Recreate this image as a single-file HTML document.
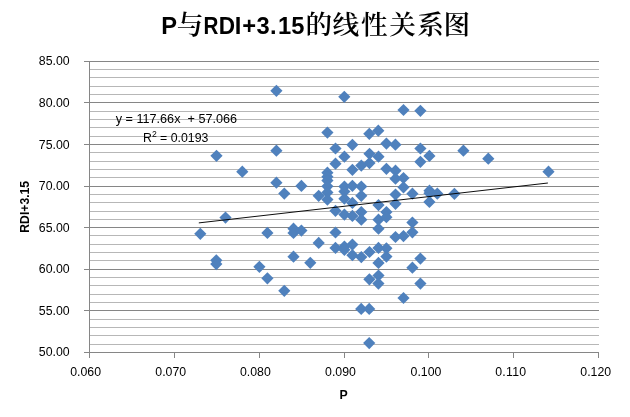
<!DOCTYPE html>
<html lang="zh">
<head>
<meta charset="utf-8">
<title>P与RDI+3.15的线性关系图</title>
<style>
html,body{margin:0;padding:0;background:#fff;}
body{width:630px;height:417px;overflow:hidden;}
svg{display:block;}
text{font-family:"Liberation Sans","Noto Sans CJK SC",sans-serif;fill:#000;}
.ax{font-size:12.3px;}
.b{font-weight:bold;}
.cjk{font-family:"Liberation Serif","Noto Serif CJK SC",serif;font-weight:600;}
</style>
</head>
<body>
<svg width="630" height="417" viewBox="0 0 630 417">
<rect x="0" y="0" width="630" height="417" fill="#ffffff"/>

<g stroke="#b7b7b7" stroke-width="1" shape-rendering="crispEdges">
<line x1="89.5" y1="69.5" x2="599.0" y2="69.5"/>
<line x1="89.5" y1="77.5" x2="599.0" y2="77.5"/>
<line x1="89.5" y1="86.5" x2="599.0" y2="86.5"/>
<line x1="89.5" y1="94.5" x2="599.0" y2="94.5"/>
<line x1="89.5" y1="111.5" x2="599.0" y2="111.5"/>
<line x1="89.5" y1="119.5" x2="599.0" y2="119.5"/>
<line x1="89.5" y1="127.5" x2="599.0" y2="127.5"/>
<line x1="89.5" y1="136.5" x2="599.0" y2="136.5"/>
<line x1="89.5" y1="152.5" x2="599.0" y2="152.5"/>
<line x1="89.5" y1="161.5" x2="599.0" y2="161.5"/>
<line x1="89.5" y1="169.5" x2="599.0" y2="169.5"/>
<line x1="89.5" y1="177.5" x2="599.0" y2="177.5"/>
<line x1="89.5" y1="194.5" x2="599.0" y2="194.5"/>
<line x1="89.5" y1="202.5" x2="599.0" y2="202.5"/>
<line x1="89.5" y1="211.5" x2="599.0" y2="211.5"/>
<line x1="89.5" y1="219.5" x2="599.0" y2="219.5"/>
<line x1="89.5" y1="235.5" x2="599.0" y2="235.5"/>
<line x1="89.5" y1="244.5" x2="599.0" y2="244.5"/>
<line x1="89.5" y1="252.5" x2="599.0" y2="252.5"/>
<line x1="89.5" y1="260.5" x2="599.0" y2="260.5"/>
<line x1="89.5" y1="277.5" x2="599.0" y2="277.5"/>
<line x1="89.5" y1="285.5" x2="599.0" y2="285.5"/>
<line x1="89.5" y1="294.5" x2="599.0" y2="294.5"/>
<line x1="89.5" y1="302.5" x2="599.0" y2="302.5"/>
<line x1="89.5" y1="319.5" x2="599.0" y2="319.5"/>
<line x1="89.5" y1="327.5" x2="599.0" y2="327.5"/>
<line x1="89.5" y1="335.5" x2="599.0" y2="335.5"/>
<line x1="89.5" y1="344.5" x2="599.0" y2="344.5"/>
</g>
<g stroke="#868686" stroke-width="1" shape-rendering="crispEdges">
<line x1="84.0" y1="61.5" x2="599.0" y2="61.5"/>
<line x1="84.0" y1="102.5" x2="599.0" y2="102.5"/>
<line x1="84.0" y1="144.5" x2="599.0" y2="144.5"/>
<line x1="84.0" y1="186.5" x2="599.0" y2="186.5"/>
<line x1="84.0" y1="227.5" x2="599.0" y2="227.5"/>
<line x1="84.0" y1="269.5" x2="599.0" y2="269.5"/>
<line x1="84.0" y1="310.5" x2="599.0" y2="310.5"/>
<line x1="84.0" y1="352.5" x2="599.0" y2="352.5"/>
<line x1="89.5" y1="61.0" x2="89.5" y2="353.0"/>
<line x1="89.5" y1="352.5" x2="89.5" y2="358.0"/>
<line x1="174.5" y1="352.5" x2="174.5" y2="358.0"/>
<line x1="259.5" y1="352.5" x2="259.5" y2="358.0"/>
<line x1="344.5" y1="352.5" x2="344.5" y2="358.0"/>
<line x1="428.5" y1="352.5" x2="428.5" y2="358.0"/>
<line x1="513.5" y1="352.5" x2="513.5" y2="358.0"/>
<line x1="598.5" y1="352.5" x2="598.5" y2="358.0"/>
</g>
<g fill="#4f81bd">
<path d="M276.4 84.7L282.5 90.8L276.4 96.9L270.3 90.8Z"/>
<path d="M216.5 149.7L222.6 155.8L216.5 161.9L210.4 155.8Z"/>
<path d="M276.4 144.6L282.5 150.7L276.4 156.8L270.3 150.7Z"/>
<path d="M242.3 165.6L248.4 171.7L242.3 177.8L236.2 171.7Z"/>
<path d="M276.4 176.6L282.5 182.7L276.4 188.8L270.3 182.7Z"/>
<path d="M301.4 179.8L307.5 185.9L301.4 192.0L295.3 185.9Z"/>
<path d="M284.3 187.5L290.4 193.6L284.3 199.7L278.2 193.6Z"/>
<path d="M225.5 211.5L231.6 217.6L225.5 223.7L219.4 217.6Z"/>
<path d="M200.3 227.7L206.4 233.8L200.3 239.9L194.2 233.8Z"/>
<path d="M267.4 226.8L273.5 232.9L267.4 239.0L261.3 232.9Z"/>
<path d="M293.5 222.6L299.6 228.7L293.5 234.8L287.4 228.7Z"/>
<path d="M293.5 226.8L299.6 232.9L293.5 239.0L287.4 232.9Z"/>
<path d="M301.4 224.5L307.5 230.6L301.4 236.7L295.3 230.6Z"/>
<path d="M216.3 254.2L222.4 260.3L216.3 266.4L210.2 260.3Z"/>
<path d="M216.3 258.0L222.4 264.1L216.3 270.2L210.2 264.1Z"/>
<path d="M259.4 260.7L265.5 266.8L259.4 272.9L253.3 266.8Z"/>
<path d="M293.5 250.6L299.6 256.7L293.5 262.8L287.4 256.7Z"/>
<path d="M310.3 256.7L316.4 262.8L310.3 268.9L304.2 262.8Z"/>
<path d="M267.4 272.2L273.5 278.3L267.4 284.4L261.3 278.3Z"/>
<path d="M284.3 284.7L290.4 290.8L284.3 296.9L278.2 290.8Z"/>
<path d="M344.3 90.7L350.4 96.8L344.3 102.9L338.2 96.8Z"/>
<path d="M403.5 103.9L409.6 110.0L403.5 116.1L397.4 110.0Z"/>
<path d="M420.4 104.7L426.5 110.8L420.4 116.9L414.3 110.8Z"/>
<path d="M327.4 126.5L333.5 132.6L327.4 138.7L321.3 132.6Z"/>
<path d="M369.3 127.7L375.4 133.8L369.3 139.9L363.2 133.8Z"/>
<path d="M378.3 124.6L384.4 130.7L378.3 136.8L372.2 130.7Z"/>
<path d="M352.4 138.7L358.5 144.8L352.4 150.9L346.3 144.8Z"/>
<path d="M335.5 142.4L341.6 148.5L335.5 154.6L329.4 148.5Z"/>
<path d="M386.4 137.5L392.5 143.6L386.4 149.7L380.3 143.6Z"/>
<path d="M395.4 138.6L401.5 144.7L395.4 150.8L389.3 144.7Z"/>
<path d="M420.4 142.4L426.5 148.5L420.4 154.6L414.3 148.5Z"/>
<path d="M344.4 150.6L350.5 156.7L344.4 162.8L338.3 156.7Z"/>
<path d="M335.5 157.6L341.6 163.7L335.5 169.8L329.4 163.7Z"/>
<path d="M369.5 147.7L375.6 153.8L369.5 159.9L363.4 153.8Z"/>
<path d="M378.5 150.6L384.6 156.7L378.5 162.8L372.4 156.7Z"/>
<path d="M369.5 157.0L375.6 163.1L369.5 169.2L363.4 163.1Z"/>
<path d="M361.3 159.5L367.4 165.6L361.3 171.7L355.2 165.6Z"/>
<path d="M352.4 163.7L358.5 169.8L352.4 175.9L346.3 169.8Z"/>
<path d="M327.4 166.6L333.5 172.7L327.4 178.8L321.3 172.7Z"/>
<path d="M327.4 170.7L333.5 176.8L327.4 182.9L321.3 176.8Z"/>
<path d="M327.4 174.5L333.5 180.6L327.4 186.7L321.3 180.6Z"/>
<path d="M327.4 180.2L333.5 186.3L327.4 192.4L321.3 186.3Z"/>
<path d="M386.4 162.7L392.5 168.8L386.4 174.9L380.3 168.8Z"/>
<path d="M344.4 180.5L350.5 186.6L344.4 192.7L338.3 186.6Z"/>
<path d="M352.4 179.7L358.5 185.8L352.4 191.9L346.3 185.8Z"/>
<path d="M361.3 180.4L367.4 186.5L361.3 192.6L355.2 186.5Z"/>
<path d="M327.4 186.3L333.5 192.4L327.4 198.5L321.3 192.4Z"/>
<path d="M327.4 193.5L333.5 199.6L327.4 205.7L321.3 199.6Z"/>
<path d="M318.7 189.7L324.8 195.8L318.7 201.9L312.6 195.8Z"/>
<path d="M344.4 185.4L350.5 191.5L344.4 197.6L338.3 191.5Z"/>
<path d="M344.4 192.6L350.5 198.7L344.4 204.8L338.3 198.7Z"/>
<path d="M361.3 189.7L367.4 195.8L361.3 201.9L355.2 195.8Z"/>
<path d="M352.4 196.8L358.5 202.9L352.4 209.0L346.3 202.9Z"/>
<path d="M378.5 199.0L384.6 205.1L378.5 211.2L372.4 205.1Z"/>
<path d="M335.5 204.7L341.6 210.8L335.5 216.9L329.4 210.8Z"/>
<path d="M344.4 208.5L350.5 214.6L344.4 220.7L338.3 214.6Z"/>
<path d="M352.4 209.8L358.5 215.9L352.4 222.0L346.3 215.9Z"/>
<path d="M361.3 206.0L367.4 212.1L361.3 218.2L355.2 212.1Z"/>
<path d="M361.3 213.6L367.4 219.7L361.3 225.8L355.2 219.7Z"/>
<path d="M378.5 213.6L384.6 219.7L378.5 225.8L372.4 219.7Z"/>
<path d="M386.4 206.0L392.5 212.1L386.4 218.2L380.3 212.1Z"/>
<path d="M378.5 222.6L384.6 228.7L378.5 234.8L372.4 228.7Z"/>
<path d="M335.5 226.4L341.6 232.5L335.5 238.6L329.4 232.5Z"/>
<path d="M318.7 236.8L324.8 242.9L318.7 249.0L312.6 242.9Z"/>
<path d="M335.5 241.8L341.6 247.9L335.5 254.0L329.4 247.9Z"/>
<path d="M344.4 240.4L350.5 246.5L344.4 252.6L338.3 246.5Z"/>
<path d="M344.4 243.7L350.5 249.8L344.4 255.9L338.3 249.8Z"/>
<path d="M352.4 238.5L358.5 244.6L352.4 250.7L346.3 244.6Z"/>
<path d="M352.4 249.1L358.5 255.2L352.4 261.3L346.3 255.2Z"/>
<path d="M361.3 251.0L367.4 257.1L361.3 263.2L355.2 257.1Z"/>
<path d="M369.5 245.9L375.6 252.0L369.5 258.1L363.4 252.0Z"/>
<path d="M378.5 241.8L384.6 247.9L378.5 254.0L372.4 247.9Z"/>
<path d="M386.4 242.2L392.5 248.3L386.4 254.4L380.3 248.3Z"/>
<path d="M386.4 250.5L392.5 256.6L386.4 262.7L380.3 256.6Z"/>
<path d="M378.5 256.8L384.6 262.9L378.5 269.0L372.4 262.9Z"/>
<path d="M378.5 269.4L384.6 275.5L378.5 281.6L372.4 275.5Z"/>
<path d="M369.4 273.2L375.5 279.3L369.4 285.4L363.3 279.3Z"/>
<path d="M378.4 277.5L384.5 283.6L378.4 289.7L372.3 283.6Z"/>
<path d="M412.4 261.6L418.5 267.7L412.4 273.8L406.3 267.7Z"/>
<path d="M420.4 277.5L426.5 283.6L420.4 289.7L414.3 283.6Z"/>
<path d="M403.5 291.9L409.6 298.0L403.5 304.1L397.4 298.0Z"/>
<path d="M361.2 302.8L367.3 308.9L361.2 315.0L355.1 308.9Z"/>
<path d="M369.2 302.8L375.3 308.9L369.2 315.0L363.1 308.9Z"/>
<path d="M369.2 337.0L375.3 343.1L369.2 349.2L363.1 343.1Z"/>
<path d="M429.4 149.8L435.5 155.9L429.4 162.0L423.3 155.9Z"/>
<path d="M420.4 155.7L426.5 161.8L420.4 167.9L414.3 161.8Z"/>
<path d="M395.5 164.6L401.6 170.7L395.5 176.8L389.4 170.7Z"/>
<path d="M395.5 172.6L401.6 178.7L395.5 184.8L389.4 178.7Z"/>
<path d="M403.5 171.9L409.6 178.0L403.5 184.1L397.4 178.0Z"/>
<path d="M403.5 181.2L409.6 187.3L403.5 193.4L397.4 187.3Z"/>
<path d="M395.5 188.4L401.6 194.5L395.5 200.6L389.4 194.5Z"/>
<path d="M412.4 187.6L418.5 193.7L412.4 199.8L406.3 193.7Z"/>
<path d="M395.5 197.7L401.6 203.8L395.5 209.9L389.4 203.8Z"/>
<path d="M429.5 184.6L435.6 190.7L429.5 196.8L423.4 190.7Z"/>
<path d="M429.5 187.1L435.6 193.2L429.5 199.3L423.4 193.2Z"/>
<path d="M437.3 187.6L443.4 193.7L437.3 199.8L431.2 193.7Z"/>
<path d="M429.4 195.8L435.5 201.9L429.4 208.0L423.3 201.9Z"/>
<path d="M454.4 187.7L460.5 193.8L454.4 199.9L448.3 193.8Z"/>
<path d="M386.4 211.1L392.5 217.2L386.4 223.3L380.3 217.2Z"/>
<path d="M412.4 216.4L418.5 222.5L412.4 228.6L406.3 222.5Z"/>
<path d="M412.4 226.2L418.5 232.3L412.4 238.4L406.3 232.3Z"/>
<path d="M395.5 230.9L401.6 237.0L395.5 243.1L389.4 237.0Z"/>
<path d="M403.5 230.0L409.6 236.1L403.5 242.2L397.4 236.1Z"/>
<path d="M420.4 252.5L426.5 258.6L420.4 264.7L414.3 258.6Z"/>
<path d="M463.4 144.6L469.5 150.7L463.4 156.8L457.3 150.7Z"/>
<path d="M488.3 152.6L494.4 158.7L488.3 164.8L482.2 158.7Z"/>
<path d="M548.5 165.6L554.6 171.7L548.5 177.8L542.4 171.7Z"/>
</g>
<line x1="198.8" y1="222.9" x2="547.9" y2="183.0" stroke="#000" stroke-width="0.95"/>
<text class="ax" x="69.6" y="64.9" text-anchor="end" textLength="30.8" lengthAdjust="spacing">85.00</text>
<text class="ax" x="69.6" y="106.9" text-anchor="end" textLength="30.8" lengthAdjust="spacing">80.00</text>
<text class="ax" x="69.6" y="148.9" text-anchor="end" textLength="30.8" lengthAdjust="spacing">75.00</text>
<text class="ax" x="69.6" y="189.9" text-anchor="end" textLength="30.8" lengthAdjust="spacing">70.00</text>
<text class="ax" x="69.6" y="231.9" text-anchor="end" textLength="30.8" lengthAdjust="spacing">65.00</text>
<text class="ax" x="69.6" y="272.9" text-anchor="end" textLength="30.8" lengthAdjust="spacing">60.00</text>
<text class="ax" x="69.6" y="314.9" text-anchor="end" textLength="30.8" lengthAdjust="spacing">55.00</text>
<text class="ax" x="69.6" y="355.9" text-anchor="end" textLength="30.8" lengthAdjust="spacing">50.00</text>
<text class="ax" x="70.2" y="376.0" textLength="30.8" lengthAdjust="spacing">0.060</text>
<text class="ax" x="155.3" y="376.0" textLength="30.8" lengthAdjust="spacing">0.070</text>
<text class="ax" x="240.0" y="376.0" textLength="30.8" lengthAdjust="spacing">0.080</text>
<text class="ax" x="325.1" y="376.0" textLength="30.8" lengthAdjust="spacing">0.090</text>
<text class="ax" x="410.6" y="376.0" textLength="30.8" lengthAdjust="spacing">0.100</text>
<text class="ax" x="495.3" y="376.0" textLength="30.8" lengthAdjust="spacing">0.110</text>
<text class="ax" x="580.3" y="376.0" textLength="30.8" lengthAdjust="spacing">0.120</text>
<text class="ax b" x="343.5" y="399" text-anchor="middle">P</text>
<text class="ax b" transform="translate(29,206.8) rotate(-90)" text-anchor="middle" textLength="51.8" lengthAdjust="spacingAndGlyphs">RDI+3.15</text>
<text class="ax" x="176.4" y="123" text-anchor="middle" textLength="121.4" lengthAdjust="spacingAndGlyphs" style="white-space:pre">y = 117.66x  + 57.066</text>
<text class="ax" x="175.7" y="142" text-anchor="middle">R<tspan font-size="8.6" dy="-5.2">2</tspan><tspan dy="5.2"> = 0.0193</tspan></text>
<text x="161.2" y="34.2" font-size="23.7" class="b">P</text>
<text x="176.8" y="34" font-size="26.67" class="cjk">与</text>
<text x="203.6" y="34.2" font-size="23.7" class="b" textLength="14.9" lengthAdjust="spacingAndGlyphs">R</text>
<text x="218.7" y="34.2" font-size="23.7" class="b" textLength="16.3" lengthAdjust="spacingAndGlyphs">D</text>
<text x="234.7 242.2 256.4 270 277.9 291.2" y="34.2" font-size="23.7" class="b">I+3.15</text>
<text x="305.6 332.6 360.9 389.2 417.3 443.6" y="34" font-size="26.67" class="cjk">的线性关系图</text>
</svg>
</body>
</html>
